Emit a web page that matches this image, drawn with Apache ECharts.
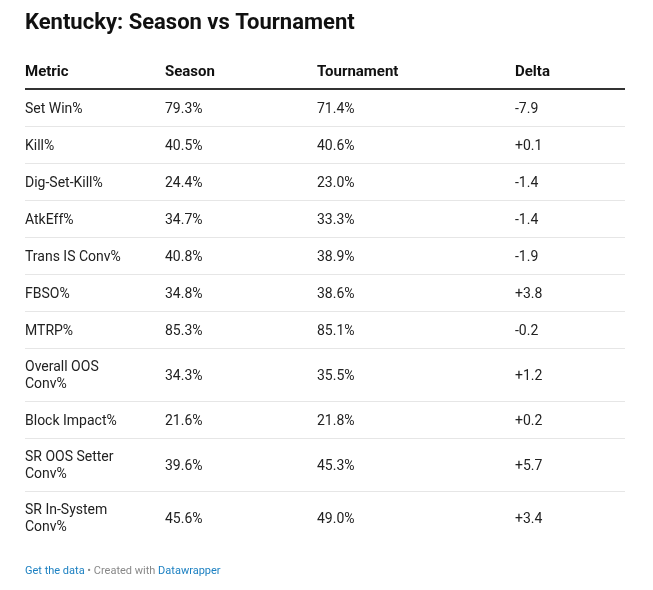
<!DOCTYPE html>
<html>
<head>
<meta charset="utf-8">
<script src="https://cdn.jsdelivr.net/npm/echarts@6/dist/echarts.min.js"></script>
<style>
  html, body { margin: 0; padding: 0; background: #fff; }
  #main { width: 653px; height: 590px; }
</style>
</head>
<body>
<div id="main"></div>
<script>
// table data
var columns = ['Metric', 'Season', 'Tournament', 'Delta'];
var metrics = [
  'Set Win%', 'Kill%', 'Dig-Set-Kill%', 'AtkEff%', 'Trans IS Conv%', 'FBSO%',
  'MTRP%', 'Overall OOS\nConv%', 'Block Impact%', 'SR OOS Setter\nConv%', 'SR In-System\nConv%'
];
var season = [79.3, 40.5, 24.4, 34.7, 40.8, 34.8, 85.3, 34.3, 21.6, 39.6, 45.6];
var tournament = [71.4, 40.6, 23.0, 33.3, 38.9, 38.6, 85.1, 35.5, 21.8, 45.3, 49.0];
var delta = [-7.9, 0.1, -1.4, -1.4, -1.9, 3.8, -0.2, 1.2, 0.2, 5.7, 3.4];

// layout (px units on the hidden axes)
var colX = [0, 140, 292, 490];
var headH = 37, rowH = 37, lineH = 16;
var textNudge = 1.5;

var rowTop = [];
var acc = headH;
metrics.forEach(function (m) {
  var h = rowH + (m.split('\n').length - 1) * lineH;
  rowTop.push([acc, acc + h]);
  acc += h;
});
var totalH = acc;

function pct(v) { return v.toFixed(1) + '%'; }
function sign(v) { return (v > 0 ? '+' : '') + v.toFixed(1); }

var cellFont = { fontFamily: 'Roboto', fontSize: 14, fill: '#222', lineHeight: 17 };

var myChart = echarts.init(document.getElementById('main'));
var option = {
  backgroundColor: '#fff',
  animation: false,
  title: [
    {
      text: 'Kentucky: Season vs Tournament',
      left: 25, top: 12, padding: 0,
      textStyle: { fontFamily: 'Roboto', fontSize: 22, fontWeight: 700, color: '#111' }
    },
    {
      text: '{link|Get the data}{sep| • Created with }{link|Datawrapper}',
      left: 25, top: 566, padding: 0,
      textStyle: {
        fontFamily: 'Roboto', fontSize: 11, fontWeight: 'normal',
        rich: {
          link: { fontFamily: 'Roboto', fontSize: 11, fontWeight: 'normal', color: '#1d81c2' },
          sep: { fontFamily: 'Roboto', fontSize: 11, fontWeight: 'normal', color: '#888' }
        }
      }
    }
  ],
  grid: { left: 25, right: 28, top: 52, height: totalH },
  xAxis: { type: 'value', min: 0, max: 600, show: false },
  yAxis: { type: 'value', min: 0, max: totalH, inverse: true, show: false },
  series: [
    {
      // header row
      type: 'custom',
      clip: false,
      silent: true,
      data: [[0]],
      renderItem: function (params, api) {
        var children = [];
        var y = api.coord([0, headH / 2])[1] + textNudge;
        columns.forEach(function (c, j) {
          var x = api.coord([colX[j], 0])[0];
          children.push({
            type: 'text',
            style: { text: c, x: x, y: y, textVerticalAlign: 'middle',
              fontFamily: 'Roboto', fontSize: 15, fontWeight: 700, fill: '#111' }
          });
        });
        var p0 = api.coord([0, headH]);
        var p1 = api.coord([600, headH]);
        children.push({
          type: 'line',
          shape: { x1: p0[0], y1: p0[1], x2: p1[0], y2: p1[1] },
          style: { stroke: '#333', lineWidth: 2 }
        });
        return { type: 'group', children: children };
      }
    },
    {
      // body rows
      type: 'custom',
      clip: false,
      silent: true,
      data: metrics.map(function (m, i) { return [i]; }),
      renderItem: function (params, api) {
        var i = api.value(0);
        var r = rowTop[i];
        var y = api.coord([0, (r[0] + r[1]) / 2])[1] + textNudge;
        var cells = [metrics[i], pct(season[i]), pct(tournament[i]), sign(delta[i])];
        var children = cells.map(function (t, j) {
          var x = api.coord([colX[j], 0])[0];
          return {
            type: 'text',
            style: Object.assign({ text: t, x: x, y: y, textVerticalAlign: 'middle' }, cellFont)
          };
        });
        if (i < metrics.length - 1) {
          var p0 = api.coord([0, r[1]]);
          var p1 = api.coord([600, r[1]]);
          children.push({
            type: 'line',
            shape: { x1: p0[0], y1: p0[1] + 0.5, x2: p1[0], y2: p1[1] + 0.5 },
            style: { stroke: '#e6e6e6', lineWidth: 1 }
          });
        }
        return { type: 'group', children: children };
      }
    }
  ]
};
myChart.setOption(option);
</script>
</body>
</html>
